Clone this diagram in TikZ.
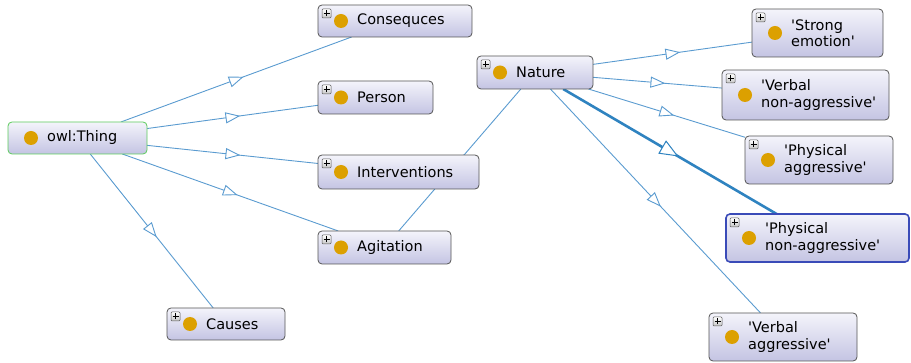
\documentclass[tikz,border=0pt]{standalone}
\usepackage{fontspec}
\setmainfont{DejaVu Sans}[Ligatures=TeXOff]
\usetikzlibrary{decorations.markings}
\definecolor{edgeblue}{HTML}{5A9BD0}
\definecolor{thickblue}{HTML}{2F83C0}
\definecolor{boxtop}{HTML}{F4F4FB}
\definecolor{boxbot}{HTML}{C4C4E3}
\definecolor{boxline}{HTML}{555555}
\definecolor{dotc}{HTML}{DCA000}
\definecolor{thinggreen}{HTML}{5CCB5C}
\definecolor{selblue}{HTML}{3A4BB8}
\pgfdeclarelayer{bg}
\pgfsetlayers{bg,main}
\tikzset{
  cls/.style={rectangle, rounded corners=4pt, draw=boxline, line width=0.8pt,
    top color=boxtop, bottom color=boxbot, inner sep=0pt, outer sep=0pt},
  lbl/.style={anchor=west, inner sep=0pt, align=left,
    font=\fontsize{14.5}{16.5}\selectfont, text=black},
  bead/.style={circle, fill=dotc, minimum size=14pt, inner sep=0pt},
  sub/.style={draw=edgeblue, line width=0.9pt, postaction={decorate},
    decoration={markings, mark=at position 0.5 with {
      \draw[edgeblue, fill=white, line width=0.9pt] (-6.5pt,-5pt) -- (6.5pt,0pt) -- (-6.5pt,5pt) -- cycle;}}},
  subthick/.style={draw=thickblue, line width=2.6pt, postaction={decorate},
    decoration={markings, mark=at position 0.5 with {
      \draw[thickblue, fill=white, line width=1pt] (-8.5pt,-7pt) -- (8.5pt,0pt) -- (-8.5pt,7pt) -- cycle;}}},
  plusbox/.pic={
    \draw[rounded corners=1pt, draw=gray!70!black, top color=white, bottom color=gray!45, line width=0.5pt]
      (-4.5pt,-4.5pt) rectangle (4.5pt,4.5pt);
    \draw[line width=1pt] (-3pt,0pt) -- (3pt,0pt) (0pt,-3pt) -- (0pt,3pt);
  }
}
\newcommand{\clsbox}[7]{% name, cx, cy, w, h, text, extra style
  \node[cls, minimum width=#4pt, minimum height=#5pt, #7] (#1) at (#2,#3) {};
  \node[bead] (#1d) at ([xshift=23pt]#1.west) {};
  \node[lbl] (#1t) at ([xshift=39pt]#1.west) {#6};
}
\begin{document}
\begin{tikzpicture}[x=1pt,y=-1pt]
\useasboundingbox (0,0) rectangle (911,363);
% nodes
\clsbox{thing}{77.5}{138}{139}{32}{owl:Thing}{draw=thinggreen}
\clsbox{cons}{395}{21}{154}{32}{Consequces}{}
\clsbox{person}{375.5}{97.5}{115}{33}{Person}{}
\clsbox{interv}{398.5}{172}{161}{34}{Interventions}{}
\clsbox{agit}{384.5}{247.5}{133}{33}{Agitation}{}
\clsbox{causes}{226}{324}{118}{32}{Causes}{}
\clsbox{nature}{535}{72.5}{116}{33}{Nature}{}
\clsbox{strong}{817.5}{33}{131}{48}{'Strong\\emotion'}{}
\clsbox{vnon}{805.5}{95}{167}{50}{'Verbal\\non-aggressive'}{}
\clsbox{pagg}{819}{160}{148}{48}{'Physical\\aggressive'}{}
\clsbox{pnon}{817.5}{238}{183}{48}{'Physical\\non-aggressive'}{draw=selblue, line width=1.6pt}
\clsbox{vagg}{783}{337}{148}{48}{'Verbal\\aggressive'}{}
% expand icons
\foreach \n in {cons,person,interv,agit,causes,nature,strong,vnon,pagg,pnon,vagg}{
  \pic at ([xshift=8.5pt,yshift=-8.5pt]\n.north west) {plusbox};
}
% connectors
\begin{pgfonlayer}{bg}
\draw[sub] (thing) -- (cons);
\draw[sub] (thing) -- (person);
\draw[sub] (thing) -- (interv);
\draw[sub] (thing) -- (agit);
\draw[sub] (thing) -- (causes);
\draw[sub] (agit) -- (nature);
\draw[sub] (nature) -- (strong);
\draw[sub] (nature) -- (vnon);
\draw[sub] (nature) -- (pagg);
\draw[subthick] (nature) -- (pnon);
\draw[sub] (nature) -- (vagg);
\end{pgfonlayer}
\end{tikzpicture}
\end{document}
